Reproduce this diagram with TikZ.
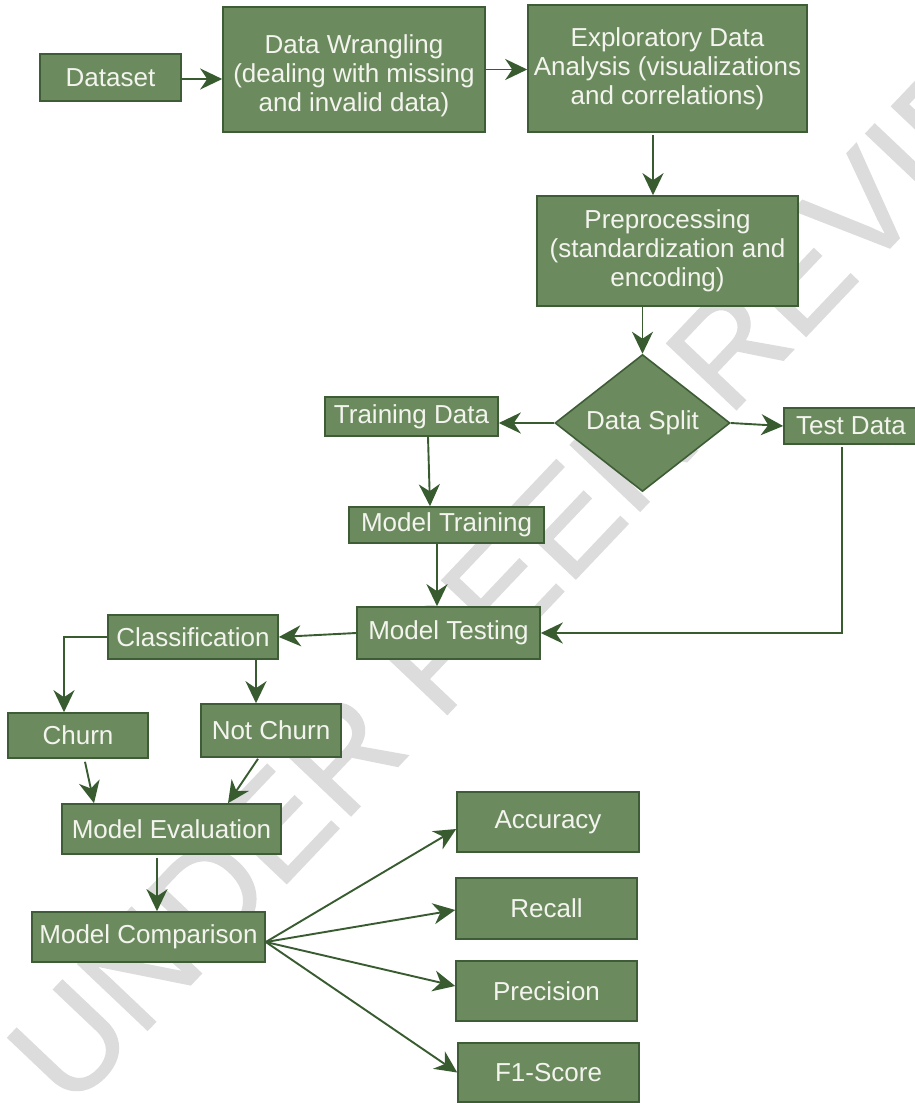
\documentclass[tikz,border=0pt]{standalone}
\usepackage{fontspec}
\setmainfont{Liberation Sans}
\newfontfamily\wmfont[FakeBold=0.9]{Liberation Sans}
\usetikzlibrary{arrows.meta,shapes.geometric}
\definecolor{boxfill}{HTML}{6B8B5F}
\definecolor{boxline}{HTML}{3E5C36}
\definecolor{arrowc}{HTML}{385C30}
\definecolor{wm}{HTML}{DCDCDC}
\definecolor{txt}{HTML}{F4F4EE}
\begin{document}
\begin{tikzpicture}[x=1pt,y=-1pt,
  box/.style={draw=boxline, line width=1.6pt, fill=boxfill, text=txt, inner sep=0pt,
    font=\fontsize{26}{29}\selectfont, align=center},
  boxtext/.style={text=txt, inner sep=0pt, font=\fontsize{26}{29}\selectfont, align=center},
  arr/.style={draw=arrowc, line width=1.9pt, -{Stealth[length=22pt,width=21pt,inset=7pt]}},
  wmark/.style={text=wm, font=\wmfont\fontsize{140}{140}\selectfont, rotate=46.5, anchor=base west, inner sep=0pt}]
\useasboundingbox (0,0) rectangle (915,1103);
\fill[white] (0,0) rectangle (915,1103);
% watermark
\node[wmark] (wmk) at (70,1112) {UNDER PEER REVIEW};
% nodes
\node[box, minimum width=141pt, minimum height=47pt] (dataset) at (110.5,77.5) {Dataset};
\node[box, minimum width=262pt, minimum height=125pt] (dw) at (354,69.5) {};
\node[boxtext] (dwtext) at ([yshift=-6pt]dw.center) {Data Wrangling\\(dealing with missing\\and invalid data)};
\node[box, minimum width=279pt, minimum height=127pt] (eda) at (667.5,68.5) {Exploratory Data\\Analysis (visualizations\\and correlations)};
\node[box, minimum width=261pt, minimum height=110pt] (prep) at (667.5,251) {Preprocessing\\(standardization and\\encoding)};
\node[box, diamond, minimum width=175pt, minimum height=132pt] (split) at (642.5,423) {Data Split};
\node[box, minimum width=173pt, minimum height=39pt] (train) at (411.5,416.5) {Training Data};
\node[box, minimum width=134pt, minimum height=36pt] (test) at (851,426) {Test Data};
\node[box, minimum width=195pt, minimum height=36pt] (mtrain) at (446.5,525) {Model Training};
\node[box, minimum width=183pt, minimum height=52pt] (mtest) at (448.5,633) {Model Testing};
\node[box, minimum width=170pt, minimum height=44pt] (class) at (193,637) {Classification};
\node[box, minimum width=140pt, minimum height=45pt] (churn) at (78,735.5) {Churn};
\node[box, minimum width=140pt, minimum height=53pt] (notchurn) at (271,730.5) {Not Churn};
\node[box, minimum width=219pt, minimum height=50pt] (meval) at (171.5,829) {Model Evaluation};
\node[box, minimum width=233pt, minimum height=50pt] (mcomp) at (148.5,937) {Model Comparison};
\node[box, minimum width=182pt, minimum height=60pt] (acc) at (548,822) {Accuracy};
\node[box, minimum width=181pt, minimum height=61pt] (rec) at (546.5,908.5) {Recall};
\node[box, minimum width=181pt, minimum height=60pt] (prec) at (546.5,991) {Precision};
\node[box, minimum width=181pt, minimum height=59pt] (f1) at (548.5,1072.5) {F1-Score};
% connectors
\draw[arr] ([yshift=-1.5pt]dataset.east) -- ([yshift=-1.5pt]dataset.east -| dw.west);
\draw[arr] (dw.east) -- (dw.east -| eda.west);
\draw[arr] ([xshift=-14.5pt,yshift=-2pt]eda.south) -- ([xshift=-14.5pt]eda.south |- prep.north);
\draw[arr] (prep.south -| split.north) -- (split.north);
\draw[arr] (split.west) -- (split.west -| train.east);
\draw[arr] (split.east) -- (test.west);
\draw[arr] ([xshift=16.5pt]train.south) -- ([xshift=-16.5pt]mtrain.north);
\draw[arr] ([xshift=-9.5pt]mtrain.south) -- ([xshift=-9.5pt]mtrain.south |- mtest.north);
\draw[arr] ([xshift=-9pt,yshift=-2pt]test.south) |- (mtest.east);
\draw[arr] (mtest.west) -- (class.east);
\draw[arr] (class.west) -| ([xshift=-14pt]churn.north);
\draw[arr] ([xshift=63pt]class.south) -- ([xshift=63pt]class.south |- notchurn.north);
\draw[arr] ([xshift=7pt,yshift=-3pt]churn.south) -- ([xshift=-77.5pt]meval.north);
\draw[arr] ([xshift=-13pt,yshift=-1pt]notchurn.south) -- ([xshift=56.5pt]meval.north);
\draw[arr] ([xshift=-14.5pt,yshift=-3pt]meval.south) -- ([xshift=-14.5pt]meval.south |- mcomp.north);
\coordinate (mc) at ([yshift=-5pt]mcomp.east);
\draw[arr] (mc) -- ([yshift=-7pt]acc.west);
\draw[arr] (mc) -- ([yshift=-1.5pt]rec.west);
\draw[arr] (mc) -- ([yshift=5pt]prec.west);
\draw[arr] (mc) -- (f1.west);
\end{tikzpicture}
\end{document}
